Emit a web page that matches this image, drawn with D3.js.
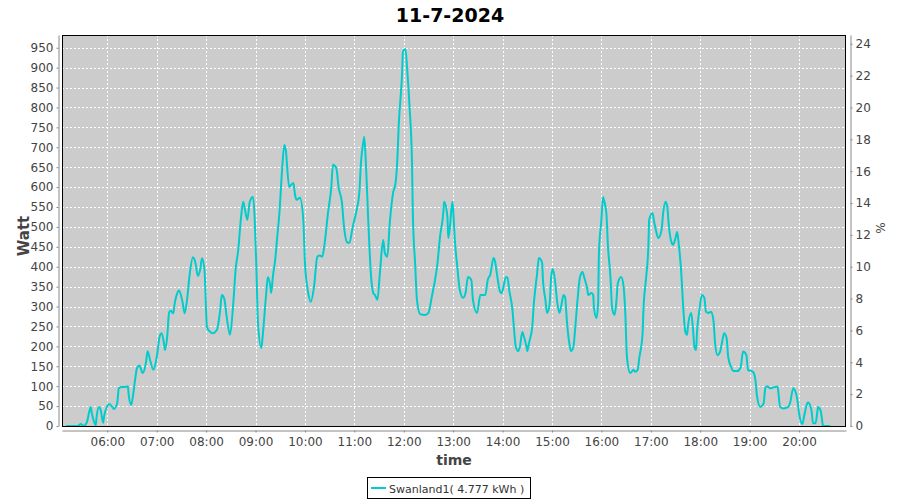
<!DOCTYPE html>
<html><head><meta charset="utf-8">
<script src="https://cdn.jsdelivr.net/npm/d3@7"></script>
<style>body{margin:0;background:#fff}svg{display:block}text{font-family:"DejaVu Sans",sans-serif}</style>
</head><body><svg id="c" width="900" height="500"></svg>
<script>
const chartTitle = "11-7-2024";
const seriesName = "Swanland1( 4.777 kWh )";
const times = ["05:10","05:17","05:24","05:28","05:31","05:35","05:38","05:40","05:41","05:44","05:46","05:47","05:50","05:52","05:55","05:56",
"06:00","06:02","06:06","06:08","06:12","06:14","06:18","06:22","06:25","06:26","06:29","06:31","06:34","06:36","06:39","06:43","06:47","06:49","06:52","06:56",
"07:00","07:04","07:06","07:09","07:10","07:13","07:15","07:17","07:20","07:22","07:25","07:27","07:31","07:34","07:37","07:40","07:44","07:47","07:50","07:53","07:55","07:58",
"08:01","08:04","08:08","08:13","08:17","08:19","08:22","08:25","08:29","08:33","08:36","08:39","08:42","08:45","08:47","08:50","08:53","08:57","08:59",
"09:01","09:03","09:07","09:09","09:13","09:15","09:18","09:19","09:21","09:24","09:26","09:29","09:32","09:35","09:37","09:38","09:41","09:43","09:46","09:48","09:50","09:54","09:58",
"10:00","10:04","10:07","10:11","10:15","10:18","10:21","10:24","10:28","10:32","10:34","10:38","10:41","10:45","10:47","10:51","10:54","10:58",
"11:02","11:06","11:08","11:11","11:12","11:14","11:17","11:20","11:23","11:25","11:28","11:31","11:35","11:37","11:40","11:43","11:47","11:50","11:52","11:54","11:58","11:59",
"12:02","12:04","12:07","12:10","12:11","12:14","12:16","12:20","12:26","12:30","12:34","12:38","12:41","12:44","12:48","12:49","12:53","12:54","12:56","12:59",
"13:00","13:02","13:05","13:08","13:12","13:15","13:18","13:22","13:24","13:29","13:33","13:39","13:42","13:45","13:49","13:51","13:53","13:57","13:59",
"14:01","14:04","14:06","14:08","14:12","14:14","14:16","14:19","14:21","14:24","14:26","14:29","14:30","14:32","14:36","14:38","14:42","14:44","14:48","14:49","14:52","14:54","14:57","14:59",
"15:01","15:04","15:06","15:09","15:11","15:14","15:16","15:18","15:21","15:23","15:26","15:28","15:31","15:34","15:37","15:39","15:43","15:44","15:48","15:50","15:51","15:54","15:56","15:57",
"16:00","16:02","16:03","16:06","16:08","16:11","16:13","16:16","16:18","16:20","16:24","16:27","16:29","16:31","16:35","16:39","16:41","16:44","16:46","16:50","16:51","16:54","16:57","16:58",
"17:02","17:04","17:07","17:09","17:13","17:15","17:18","17:20","17:22","17:25","17:27","17:30","17:32","17:34","17:37","17:39","17:42","17:44","17:45","17:49","17:51","17:53","17:55","17:56","17:59",
"18:02","18:05","18:07","18:10","18:13","18:16","18:18","18:21","18:24","18:27","18:29","18:32","18:34","18:38","18:40","18:45","18:49","18:52","18:56","18:58",
"19:04","19:07","19:09","19:13","19:17","19:19","19:21","19:25","19:29","19:34","19:35","19:37","19:41","19:47","19:49","19:53","19:55","19:58",
"20:00","20:04","20:06","20:10","20:11","20:15","20:17","20:20","20:22","20:23","20:26","20:28","20:29","20:38"];
const watts = [0,0,0,5,0,8,35,48,35,10,2,23,48,40,8,23,
50,55,48,43,57,95,98,98,100,78,53,73,120,145,152,133,160,188,165,141,
173,228,233,205,191,230,285,290,283,310,334,340,315,283,320,380,424,410,377,395,421,392,
249,238,233,241,290,329,320,274,229,309,397,442,515,563,545,518,563,575,520,
400,259,196,233,334,374,350,334,374,420,467,535,636,706,690,661,600,605,610,580,568,573,518,
410,334,312,349,425,428,425,460,535,600,656,648,598,560,510,462,460,500,
535,585,661,714,726,661,510,384,334,329,317,384,467,435,425,510,585,610,661,760,887,940,
947,900,802,661,535,400,317,281,279,284,324,367,410,475,535,563,525,472,500,563,
543,467,400,342,322,334,374,367,317,284,329,329,367,380,422,412,384,337,334,
349,374,372,342,291,241,199,188,199,236,224,199,188,208,249,309,384,422,410,367,317,284,304,374,
394,359,317,284,299,329,322,266,208,188,199,241,317,374,387,374,342,329,334,329,296,271,309,435,
518,575,568,535,450,374,296,279,309,359,374,349,284,173,133,141,136,141,171,233,291,367,450,518,
535,513,485,472,492,535,563,550,500,462,455,472,487,455,384,309,236,229,249,284,249,198,191,233,291,
329,322,287,284,287,266,209,178,186,216,233,221,173,146,138,138,147,187,178,141,
136,116,74,48,57,95,100,95,97,99,82,48,44,48,57,95,90,65,
32,5,23,57,59,40,7,7,32,48,40,15,0,0];
const hourTicks = ["06:00","07:00","08:00","09:00","10:00","11:00","12:00","13:00","14:00","15:00","16:00","17:00","18:00","19:00","20:00"];
const wattTicks = [0,50,100,150,200,250,300,350,400,450,500,550,600,650,700,750,800,850,900,950];
const percentTicks = [0,2,4,6,8,10,12,14,16,18,20,22,24];
const timeRange = ["05:05","20:57"];
const wattMax = 982;
const ratedWatt = 4000;

const parse = d3.timeParse("%H:%M");
const fmt = d3.timeFormat("%H:%M");
const L = 62, R = 846, T = 35, B = 426;
const svg = d3.select("#c");
const x = d3.scaleTime().domain(timeRange.map(parse)).range([L, R]);
const y = d3.scaleLinear().domain([0, wattMax]).range([B, T]);
const yR = d3.scaleLinear().domain([0, wattMax / ratedWatt * 100]).range([B, T]);
const axisColor = "#888", labelColor = "#444";

svg.append("text").attr("x", 450).attr("y", 22).attr("text-anchor", "middle")
  .attr("font-size", 19).attr("font-weight", "bold").attr("fill", "#000").text(chartTitle);

svg.append("rect").attr("x", L).attr("y", T).attr("width", R - L).attr("height", B - T).attr("fill", "#cccccc");

const grid = svg.append("g").attr("stroke", "#fff").attr("stroke-dasharray", "2,2").attr("stroke-width", 1);
hourTicks.forEach(h => {
  const xx = Math.round(x(parse(h))) + 0.5;
  grid.append("line").attr("x1", xx).attr("x2", xx).attr("y1", T).attr("y2", B);
});
wattTicks.forEach(w => {
  if (w === 0) return;
  const yy = Math.round(y(w)) + 0.5;
  grid.append("line").attr("x1", L).attr("x2", R).attr("y1", yy).attr("y2", yy);
});

const data = times.map((t, i) => ({t: parse(t), w: watts[i]}));
svg.append("clipPath").attr("id", "cp").append("rect").attr("x", L).attr("y", T - 2).attr("width", R - L).attr("height", B - T + 2);
svg.append("path").datum(data).attr("clip-path", "url(#cp)")
  .attr("fill", "none").attr("stroke", "#00cccc").attr("stroke-width", 2).attr("stroke-linejoin", "round")
  .attr("d", d3.line().x(d => x(d.t)).y(d => y(d.w)).curve(d3.curveMonotoneX));

svg.append("rect").attr("x", L + 0.5).attr("y", T + 0.5).attr("width", R - L - 1).attr("height", B - T)
  .attr("fill", "none").attr("stroke", "#000").attr("stroke-width", 1);

function styleAxis(g) {
  g.select(".domain").attr("stroke", axisColor);
  g.selectAll(".tick line").attr("stroke", axisColor);
  g.selectAll(".tick text").attr("fill", labelColor).attr("font-size", 12).attr("font-family", "DejaVu Sans");
}
svg.append("g").attr("transform", "translate(58.5,0)")
  .call(d3.axisLeft(y).tickValues(wattTicks).tickSize(2).tickSizeOuter(0).tickPadding(3))
  .call(styleAxis);
svg.append("g").attr("transform", "translate(850.5,0)")
  .call(d3.axisRight(yR).tickValues(percentTicks).tickSize(2).tickSizeOuter(0).tickPadding(3))
  .call(styleAxis);
svg.append("g").attr("transform", "translate(0,430.5)")
  .call(d3.axisBottom(x).tickValues(hourTicks.map(parse)).tickFormat(fmt).tickSize(2).tickSizeOuter(0).tickPadding(5))
  .call(styleAxis);

svg.append("text").attr("transform", "translate(29,236) rotate(-90)").attr("text-anchor", "middle")
  .attr("font-size", 15).attr("font-weight", "bold").attr("fill", labelColor).text("Watt");
svg.append("text").attr("transform", "translate(885,228) rotate(-90)").attr("text-anchor", "middle")
  .attr("font-size", 12).attr("fill", labelColor).text("%");
svg.append("text").attr("x", (L + R) / 2).attr("y", 465).attr("text-anchor", "middle")
  .attr("font-size", 14).attr("font-weight", "bold").attr("fill", labelColor).text("time");

const lg = svg.append("g");
lg.append("rect").attr("x", 367.5).attr("y", 477.5).attr("width", 163).attr("height", 21)
  .attr("fill", "#fff").attr("stroke", "#000").attr("stroke-width", 1);
lg.append("line").attr("x1", 371).attr("x2", 386).attr("y1", 488).attr("y2", 488)
  .attr("stroke", "#00cccc").attr("stroke-width", 2);
lg.append("text").attr("x", 389).attr("y", 492.5).attr("font-size", 11).attr("fill", "#333").text(seriesName);
</script></body></html>
